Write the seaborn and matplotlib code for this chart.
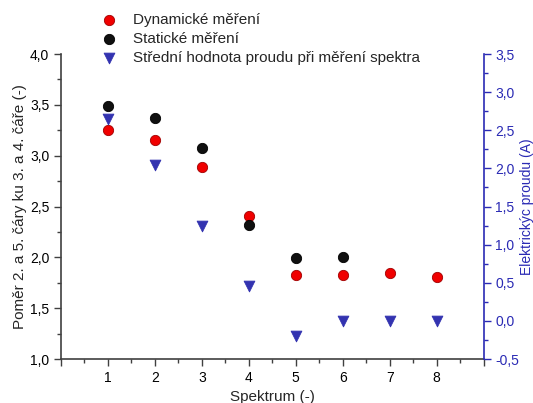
import numpy as np
import pandas as pd
import matplotlib
matplotlib.use("Agg")
import matplotlib.pyplot as plt
import seaborn as sb
from matplotlib.ticker import MultipleLocator, FuncFormatter

# data
spektrum = [1, 2, 3, 4, 5, 6, 7, 8]
dynamicke = [3.25, 3.15, 2.89, 2.41, 1.83, 1.83, 1.85, 1.81]
spektrum_stat = [1, 2, 3, 4, 5, 6]
staticke = [3.49, 3.37, 3.08, 2.32, 1.99, 2.00]
proud = [2.65, 2.04, 1.24, 0.46, -0.20, 0.0, 0.0, 0.0]

sb.set_style("ticks")
plt.rcParams['font.family'] = ['Liberation Sans', 'DejaVu Sans']

dyn = pd.DataFrame({'x': spektrum, 'y': dynamicke})
sta = pd.DataFrame({'x': spektrum_stat, 'y': staticke})
cur = pd.DataFrame({'x': spektrum, 'y': proud})

blue = '#2a2ab4'
grey = '#404040'

fig = plt.figure(figsize=(5.33, 4.03), dpi=100)
ax = fig.add_axes([0.1144, 0.109, 0.793, 0.757])
ax2 = ax.twinx()

sb.scatterplot(data=dyn, x='x', y='y', ax=ax, color='#f00000', edgecolor='#a00000',
               linewidth=0.6, s=55, label='Dynamické měření', legend=False, zorder=3)
sb.scatterplot(data=sta, x='x', y='y', ax=ax, color='#101010', edgecolor='black',
               linewidth=0.6, s=55, label='Statické měření', legend=False, zorder=3)
sb.scatterplot(data=cur, x='x', y='y', ax=ax2, color='#3333b0', edgecolor='#3333b0',
               marker='v', s=60, label='Střední hodnota proudu při měření spektra',
               legend=False, zorder=3)

comma = FuncFormatter(lambda v, p: f"{v:.1f}".replace('.', ','))

ax.set_xlim(0, 9)
ax.set_ylim(1.0, 4.0)
ax2.set_ylim(-0.5, 3.5)
ax.xaxis.set_major_locator(MultipleLocator(1))
ax.xaxis.set_minor_locator(MultipleLocator(0.5))
ax.xaxis.set_major_formatter(FuncFormatter(lambda v, p: f"{int(v)}" if 1 <= v <= 8 else ""))
ax.yaxis.set_major_locator(MultipleLocator(0.5))
ax.yaxis.set_minor_locator(MultipleLocator(0.25))
ax.yaxis.set_major_formatter(comma)
ax2.yaxis.set_major_locator(MultipleLocator(0.5))
ax2.yaxis.set_minor_locator(MultipleLocator(0.25))
ax2.yaxis.set_major_formatter(comma)

ax.spines['top'].set_visible(False)
ax2.spines['top'].set_visible(False)
ax.spines['left'].set_color(grey)
ax.spines['bottom'].set_color(grey)
ax.spines['right'].set_visible(False)
ax2.spines['left'].set_visible(False)
ax2.spines['bottom'].set_visible(False)
ax2.spines['right'].set_color(blue)
for sp in ['left', 'bottom']:
    ax.spines[sp].set_linewidth(1.2)
ax2.spines['right'].set_linewidth(1.2)

ax.tick_params(which='major', length=5, width=1, color=grey, labelsize=10, labelcolor='black')
ax.tick_params(which='minor', length=3, width=1, color=grey)
ax2.tick_params(which='major', length=5, width=1, color=blue, labelsize=10, labelcolor=blue)
ax2.tick_params(which='minor', length=3, width=1, color=blue)

ax.set_xlabel('Spektrum (-)', fontsize=11, labelpad=4)
ax.set_ylabel('Poměr 2. a 5. čáry ku 3. a 4. čáře (-)', fontsize=11, labelpad=2)
ax2.set_ylabel('Elektrickýc proudu (A)', fontsize=10, color=blue)
ax2.yaxis.set_label_coords(1.087, 0.5)

h1, l1 = ax.get_legend_handles_labels()
h2, l2 = ax2.get_legend_handles_labels()
fig.legend(h1 + h2, l1 + l2, loc='upper left', bbox_to_anchor=(0.155, 0.995),
           frameon=False, fontsize=11, handletextpad=0.6, labelspacing=0.35,
           borderpad=0.2)

fig.savefig('out.png', dpi=100)
